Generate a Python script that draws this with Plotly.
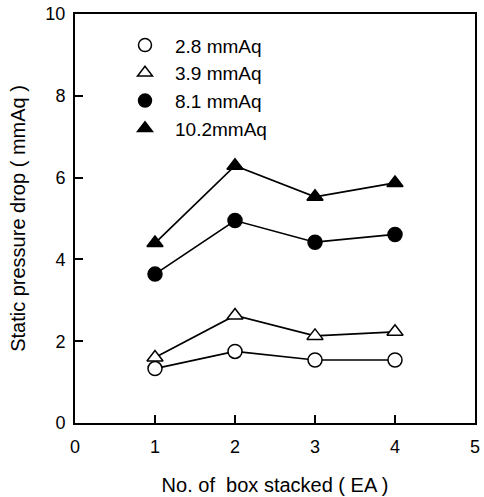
import plotly.graph_objects as go

x_vals = [1, 2, 3, 4]
labels = ["2.8 mmAq", "3.9 mmAq", "8.1 mmAq", "10.2mmAq"]
y_28 = [1.33, 1.75, 1.54, 1.54]
y_39 = [1.60, 2.63, 2.13, 2.23]
y_81 = [3.64, 4.95, 4.42, 4.61]
y_102 = [4.40, 6.29, 5.53, 5.87]
symbols = ["circle", "triangle-up", "circle", "triangle-up"]
fills = ["white", "white", "black", "black"]
series = [y_28, y_39, y_81, y_102]

fig = go.Figure()
for i, (lab, ys, sym, fc) in enumerate(zip(labels, series, symbols, fills)):
    fig.add_trace(go.Scatter(
        x=x_vals, y=ys, mode="lines+markers", name=lab, showlegend=False,
        line=dict(color="black", width=1.7),
        marker=dict(symbol=sym, size=14, color=fc,
                    line=dict(color="black", width=1.5)),
    ))
for i, (lab, sym, fc) in enumerate(zip(labels, symbols, fills)):
    fig.add_trace(go.Scatter(
        x=[None], y=[None], mode="markers", name=lab,
        marker=dict(symbol=sym, size=13, color=fc,
                    line=dict(color="black", width=1.5)),
    ))

fig.update_layout(
    width=484, height=497,
    margin=dict(l=75, r=4, t=14, b=72),
    paper_bgcolor="white", plot_bgcolor="white",
    font=dict(family="Liberation Sans, Arial", size=17, color="black"),
    showlegend=True,
    legend=dict(x=0.1, y=0.97, xanchor="left", yanchor="top",
                bgcolor="rgba(0,0,0,0)", font=dict(size=19),
                itemwidth=50),
    xaxis=dict(range=[0, 5], tickvals=[0, 1, 2, 3, 4, 5], ticks="inside", ticklen=8,
               tickwidth=1.5, tickcolor="black", showgrid=False, zeroline=False,
               showline=True, linecolor="black", linewidth=2, mirror=True,
               ticklabelstandoff=6, ticklabeloverflow="allow",
               title=dict(text="No. of  box stacked ( EA )", standoff=22),
               tickfont=dict(size=18)),
    yaxis=dict(range=[0, 10], tickvals=[0, 2, 4, 6, 8, 10], ticks="inside", ticklen=8,
               tickwidth=1.5, tickcolor="black", showgrid=False, zeroline=False,
               showline=True, linecolor="black", linewidth=2, mirror=True,
               ticklabelstandoff=4, ticklabeloverflow="allow",
               title=dict(text="Static pressure drop ( mmAq )", standoff=14),
               tickfont=dict(size=18)),
)

fig.write_html("out.html")
